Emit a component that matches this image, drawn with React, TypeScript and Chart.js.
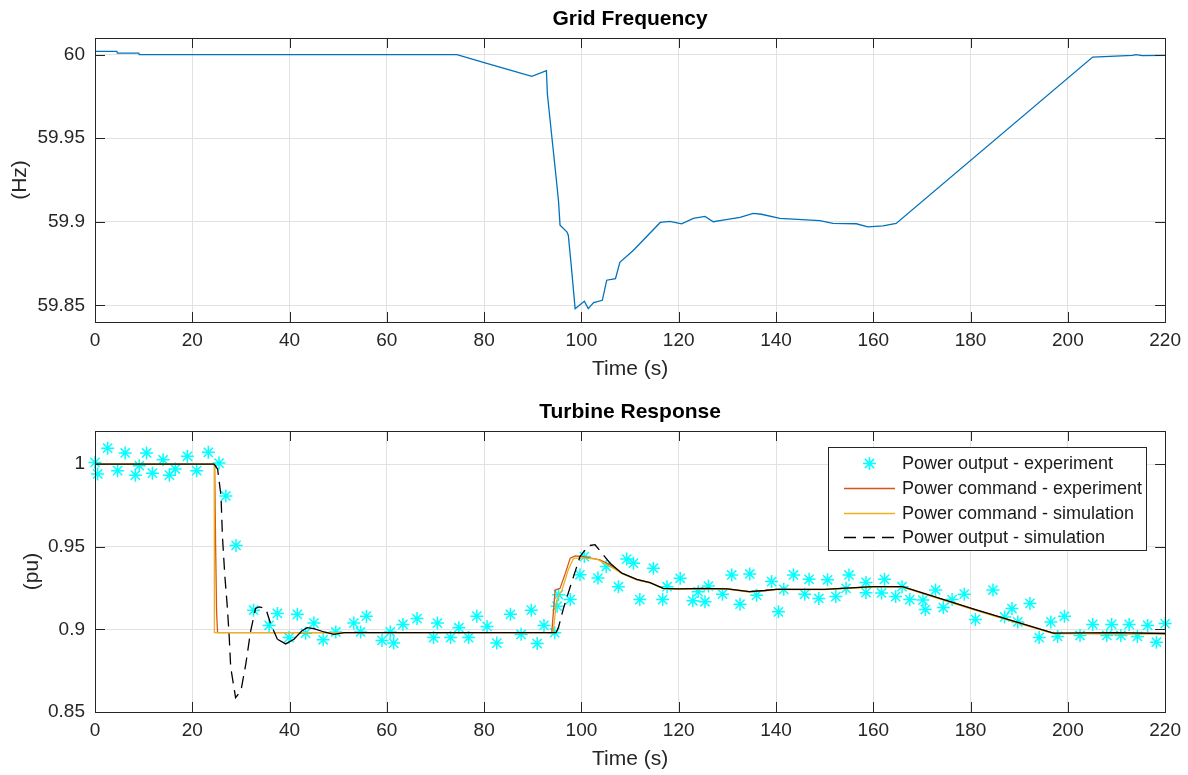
import React, { useEffect, useRef } from "react";
import { Chart, registerables } from "chart.js";

Chart.register(...registerables);

const FONT = '"Liberation Sans", Arial, Helvetica, sans-serif';
const AXIS_COLOR = "#262626";
const GRID_COLOR = "#e2e2e2";

// ---------- tick values ----------
const xTicks = [0, 20, 40, 60, 80, 100, 120, 140, 160, 180, 200, 220];
const freqYTicks = [59.85, 59.9, 59.95, 60];
const powerYTicks = [0.85, 0.9, 0.95, 1];

// ---------- Grid Frequency ----------
const freqTime = [0, 4.5, 4.6, 9, 9.1, 74.4, 80, 85, 89.8, 92.8, 93.0, 93.8, 94.6, 95.3, 95.6, 97.0, 97.3, 97.9, 98.7, 100.6, 101.4, 102.5, 104.3, 105.2, 107.0, 107.9, 110.7, 116.2, 118.2, 120.6, 123.0, 125.4, 127.1, 129.1, 132.6, 135.3, 137.0, 140.8, 149.0, 151.7, 156.5, 158.9, 162.0, 164.7, 205.1, 213.3, 214.0, 215.3, 220];
const freqHz = [60.002, 60.002, 60.001, 60.001, 60.0, 60.0, 59.9953, 59.991, 59.987, 59.9905, 59.9765, 59.954, 59.932, 59.912, 59.898, 59.894, 59.892, 59.874, 59.848, 59.8524, 59.848, 59.8516, 59.853, 59.865, 59.866, 59.8757, 59.883, 59.8996, 59.9002, 59.8988, 59.902, 59.9032, 59.9, 59.901, 59.9026, 59.905, 59.9045, 59.902, 59.9007, 59.899, 59.8988, 59.897, 59.8975, 59.899, 59.9986, 59.9996, 60.0, 59.9995, 59.9996];

// ---------- Turbine Response ----------
const expTime = [0.0, 0.55, 2.6, 4.65, 6.2, 8.3, 9.1, 10.6, 11.8, 14.0, 15.3, 16.5, 19.0, 20.9, 23.3, 25.5, 26.9, 29.0, 32.6, 35.8, 37.5, 39.9, 41.6, 43.3, 45.0, 46.9, 49.5, 53.2, 54.6, 55.8, 59.0, 60.7, 61.4, 63.3, 66.2, 69.6, 70.4, 73.1, 74.8, 76.8, 78.5, 80.6, 82.6, 85.4, 87.6, 89.7, 90.9, 92.3, 94.5, 95.0, 95.3, 97.7, 99.7, 100.6, 103.4, 105.1, 107.6, 109.3, 110.7, 112.0, 114.8, 116.7, 117.6, 120.3, 122.9, 124.0, 125.4, 126.1, 129.0, 130.9, 132.6, 134.6, 136.0, 139.1, 140.5, 141.6, 143.6, 145.9, 146.8, 148.8, 150.6, 152.3, 154.4, 155.0, 158.5, 158.5, 161.7, 162.3, 164.6, 165.9, 167.5, 170.2, 170.7, 172.8, 174.4, 176.2, 178.7, 181.0, 184.6, 187.0, 188.5, 189.7, 192.2, 194.1, 196.5, 197.9, 199.3, 202.5, 205.1, 208.0, 209.0, 210.9, 212.6, 214.3, 216.4, 218.2, 220.0];
const expPower = [1.001, 0.994, 1.0096, 0.996, 1.0067, 0.9933, 0.999, 1.0067, 0.9945, 1.0026, 0.9933, 0.997, 1.0047, 0.996, 1.0071, 1.0006, 0.9807, 0.9508, 0.9116, 0.9024, 0.9096, 0.895, 0.9091, 0.8977, 0.9038, 0.8937, 0.8984, 0.9038, 0.8984, 0.908, 0.8933, 0.8984, 0.8917, 0.903, 0.9065, 0.895, 0.9038, 0.895, 0.901, 0.895, 0.908, 0.9018, 0.8917, 0.9091, 0.897, 0.9116, 0.8914, 0.9024, 0.898, 0.914, 0.921, 0.918, 0.933, 0.944, 0.931, 0.938, 0.9258, 0.9425, 0.94, 0.918, 0.937, 0.918, 0.9258, 0.9309, 0.9173, 0.9227, 0.9167, 0.9262, 0.9213, 0.9329, 0.9152, 0.9335, 0.9207, 0.9289, 0.9106, 0.9242, 0.9329, 0.9213, 0.9303, 0.9187, 0.93, 0.9198, 0.9248, 0.9329, 0.9284, 0.9222, 0.922, 0.9303, 0.9198, 0.9258, 0.918, 0.9177, 0.912, 0.9238, 0.9132, 0.918, 0.9213, 0.906, 0.9238, 0.9075, 0.9126, 0.9045, 0.9157, 0.895, 0.9045, 0.8957, 0.9079, 0.8963, 0.903, 0.8963, 0.903, 0.8963, 0.903, 0.8957, 0.9024, 0.8922, 0.9035];

const cmdExpTime = [0, 24.6, 24.8, 25.0, 25.2, 93.9, 94.6, 95.6, 96.7, 97.7, 98.7, 100.4, 103.8, 105.9, 108.3, 111.4, 114.1, 116.8, 120, 125, 130, 134.5, 137.7, 140, 150, 160, 166, 181, 197, 210, 220];
const cmdExpPower = [1.0, 1.0, 0.95, 0.91, 0.898, 0.898, 0.9238, 0.9248, 0.934, 0.9431, 0.9445, 0.944, 0.942, 0.939, 0.934, 0.93, 0.9282, 0.9248, 0.9245, 0.9245, 0.9245, 0.9228, 0.9235, 0.9242, 0.9242, 0.9258, 0.9258, 0.912, 0.8977, 0.8975, 0.8975];

const cmdSimTime = [0, 24.5, 24.55, 94.2, 94.9, 96.0, 97.3, 98.4, 100.4, 103.2, 105.9, 108.5, 111.6, 114.3, 117.0, 120, 125, 130, 134.5, 137.7, 140, 150, 160, 166, 181, 197, 210, 220];
const cmdSimPower = [1.0, 1.0, 0.898, 0.898, 0.9177, 0.9238, 0.936, 0.9431, 0.9431, 0.9425, 0.938, 0.9335, 0.9298, 0.928, 0.9245, 0.9243, 0.9243, 0.9243, 0.9226, 0.9233, 0.924, 0.924, 0.9256, 0.9256, 0.9115, 0.8975, 0.8973, 0.8973];

const outSimTime = [0, 24.5, 25.2, 25.9, 26.2, 26.7, 27.2, 27.6, 27.9, 28.9, 30.0, 31.0, 32.0, 33.0, 33.7, 35.1, 36.1, 37.5, 39.2, 40.9, 42.5, 43.6, 45.0, 47.1, 49.1, 51.2, 94.8, 95.3, 96.3, 97.7, 99.7, 101.4, 102.8, 105.9, 108.3, 111.4, 114.1, 116.8, 120, 125, 130, 134.5, 137.7, 140, 150, 160, 166, 181, 197, 210, 220];
const outSimPower = [1.0, 1.0, 0.997, 0.981, 0.956, 0.932, 0.9136, 0.895, 0.877, 0.8587, 0.8628, 0.879, 0.899, 0.9126, 0.9136, 0.9126, 0.9035, 0.894, 0.8912, 0.894, 0.899, 0.901, 0.9004, 0.8984, 0.897, 0.898, 0.898, 0.9014, 0.9126, 0.9258, 0.944, 0.9506, 0.9512, 0.94, 0.934, 0.9303, 0.9282, 0.9248, 0.9245, 0.9248, 0.9245, 0.9228, 0.9235, 0.9242, 0.9242, 0.9258, 0.9258, 0.912, 0.8977, 0.898, 0.8975];

const seriesLabels = [
  "Power output - experiment",
  "Power command - experiment",
  "Power command - simulation",
  "Power output - simulation",
];

const pairs = (xs: number[], ys: number[]) => xs.map((x, i) => ({ x, y: ys[i] }));

const DASH = [12, 7];

// frame + inward ticks
const framePlugin = {
  id: "frame",
  afterDatasetsDraw(chart: any) {
    const { ctx, chartArea: a, scales } = chart;
    const tl = 10;
    ctx.save();
    ctx.strokeStyle = AXIS_COLOR;
    ctx.lineWidth = 1;
    ctx.beginPath();
    for (const t of scales.x.ticks) {
      const px = Math.round(scales.x.getPixelForValue(t.value)) + 0.5;
      ctx.moveTo(px, a.bottom);
      ctx.lineTo(px, a.bottom - tl);
      ctx.moveTo(px, a.top);
      ctx.lineTo(px, a.top + tl);
    }
    for (const t of scales.y.ticks) {
      const py = Math.round(scales.y.getPixelForValue(t.value)) + 0.5;
      ctx.moveTo(a.left, py);
      ctx.lineTo(a.left + tl, py);
      ctx.moveTo(a.right, py);
      ctx.lineTo(a.right - tl, py);
    }
    ctx.stroke();
    ctx.strokeRect(Math.round(a.left) + 0.5, Math.round(a.top) + 0.5, Math.round(a.right - a.left), Math.round(a.bottom - a.top));
    ctx.restore();
  },
};

// axes title centred over the plot area (MATLAB style)
const axesTitlePlugin = {
  id: "axesTitle",
  afterDraw(chart: any, _args: any, opts: any) {
    const { ctx, chartArea: a } = chart;
    ctx.save();
    ctx.font = `bold 21px ${FONT}`;
    ctx.fillStyle = "#000000";
    ctx.textAlign = "center";
    ctx.textBaseline = "middle";
    ctx.fillText(opts.text, (a.left + a.right) / 2, opts.y);
    ctx.restore();
  },
};

const legendPlugin = {
  id: "matlabLegend",
  afterDraw(chart: any) {
    const { ctx, chartArea: a } = chart;
    const w = 318;
    const h = 103;
    const x0 = Math.round(a.right - 19 - w);
    const y0 = Math.round(a.top + 16);
    ctx.save();
    ctx.fillStyle = "#ffffff";
    ctx.fillRect(x0, y0, w, h);
    ctx.strokeStyle = AXIS_COLOR;
    ctx.lineWidth = 1;
    ctx.strokeRect(x0 + 0.5, y0 + 0.5, w, h);
    ctx.font = `18px ${FONT}`;
    ctx.textBaseline = "middle";
    ctx.textAlign = "left";
    chart.data.datasets.forEach((ds: any, i: number) => {
      const cy = y0 + 16.5 + i * 24.6;
      const sx0 = x0 + 16;
      const sx1 = x0 + 67;
      if (ds.showLine === false) {
        const cx = (sx0 + sx1) / 2;
        const r = ds.pointRadius;
        ctx.strokeStyle = ds.pointBorderColor;
        ctx.lineWidth = ds.pointBorderWidth;
        ctx.beginPath();
        for (let k = 0; k < 4; k++) {
          const ang = (k * Math.PI) / 4;
          ctx.moveTo(cx - r * Math.cos(ang), cy - r * Math.sin(ang));
          ctx.lineTo(cx + r * Math.cos(ang), cy + r * Math.sin(ang));
        }
        ctx.stroke();
      } else {
        ctx.strokeStyle = ds.borderColor;
        ctx.lineWidth = ds.borderWidth;
        ctx.setLineDash(ds.legendDash || []);
        ctx.beginPath();
        ctx.moveTo(sx0, Math.round(cy) + 0.5);
        ctx.lineTo(sx1, Math.round(cy) + 0.5);
        ctx.stroke();
        ctx.setLineDash([]);
      }
      ctx.fillStyle = "#1a1a1a";
      ctx.fillText(ds.label, x0 + 74, cy + 1);
    });
    ctx.restore();
  },
};

function makeOptions(cfg: {
  title: string;
  titleY: number;
  topPad: number;
  yMin: number;
  yMax: number;
  yTicks: number[];
  yTitle: string;
  yTitlePad: number;
  xScaleHeight: number;
  xTitlePadBottom: number;
}) {
  return {
    responsive: false,
    animation: false as const,
    devicePixelRatio: 1,
    events: [] as any[],
    layout: { padding: { left: 0, right: 21, top: cfg.topPad, bottom: 0 } },
    plugins: {
      legend: { display: false },
      tooltip: { enabled: false },
      title: { display: false },
      axesTitle: { text: cfg.title, y: cfg.titleY },
    },
    scales: {
      x: {
        type: "linear" as const,
        min: 0,
        max: 220,
        afterBuildTicks: (s: any) => {
          s.ticks = xTicks.map((v) => ({ value: v }));
        },
        afterFit: (s: any) => {
          s.height = cfg.xScaleHeight;
        },
        grid: { color: GRID_COLOR, lineWidth: 1, drawTicks: false },
        border: { display: false },
        ticks: {
          padding: 7,
          color: AXIS_COLOR,
          autoSkip: false,
          maxRotation: 0,
          font: { family: FONT, size: 19 },
          callback: (v: any) => String(v),
        },
        title: {
          display: true,
          text: "Time (s)",
          color: AXIS_COLOR,
          font: { family: FONT, size: 21, lineHeight: 1.2 },
          padding: { top: 0, bottom: cfg.xTitlePadBottom },
        },
      },
      y: {
        type: "linear" as const,
        min: cfg.yMin,
        max: cfg.yMax,
        afterBuildTicks: (s: any) => {
          s.ticks = cfg.yTicks.map((v) => ({ value: v }));
        },
        afterFit: (s: any) => {
          s.width = 95;
        },
        grid: { color: GRID_COLOR, lineWidth: 1, drawTicks: false },
        border: { display: false },
        ticks: {
          padding: 10,
          color: AXIS_COLOR,
          autoSkip: false,
          font: { family: FONT, size: 19 },
          callback: (v: any) => String(Number(Number(v).toFixed(3))),
        },
        title: {
          display: true,
          text: cfg.yTitle,
          color: AXIS_COLOR,
          font: { family: FONT, size: 21, lineHeight: 1.2 },
          padding: { top: cfg.yTitlePad, bottom: 0 },
        },
      },
    },
  };
}

export default function App() {
  const topRef = useRef<HTMLCanvasElement | null>(null);
  const botRef = useRef<HTMLCanvasElement | null>(null);

  useEffect(() => {
    const c1 = new Chart(topRef.current as HTMLCanvasElement, {
      type: "line",
      data: {
        datasets: [
          {
            label: "Grid frequency",
            data: pairs(freqTime, freqHz),
            borderColor: "#0072BD",
            backgroundColor: "#0072BD",
            borderWidth: 1.3,
            pointRadius: 0,
            tension: 0,
            fill: false,
          },
        ],
      },
      options: makeOptions({
        title: "Grid Frequency",
        titleY: 19,
        topPad: 38,
        yMin: 59.84,
        yMax: 60.01,
        yTicks: freqYTicks,
        yTitle: "(Hz)",
        yTitlePad: 7.4,
        xScaleHeight: 65,
        xTitlePadBottom: 5.4,
      }) as any,
      plugins: [framePlugin, axesTitlePlugin],
    });

    const dashed = (ctx: any) => {
      const x = ctx.p0.parsed.x;
      return (x >= 24.4 && x < 37) || (x >= 94.4 && x < 104) ? DASH : undefined;
    };

    const c2 = new Chart(botRef.current as HTMLCanvasElement, {
      type: "line",
      data: {
        datasets: [
          {
            label: seriesLabels[0],
            data: pairs(expTime, expPower),
            showLine: false,
            pointStyle: "star",
            pointRadius: 6.5,
            pointBorderWidth: 1.5,
            pointBorderColor: "#00FFFF",
            pointBackgroundColor: "#00FFFF",
            borderColor: "#00FFFF",
            backgroundColor: "#00FFFF",
            clip: false,
            order: 4,
          } as any,
          {
            label: seriesLabels[1],
            data: pairs(cmdExpTime, cmdExpPower),
            borderColor: "#D95319",
            backgroundColor: "#D95319",
            borderWidth: 1.3,
            pointRadius: 0,
            tension: 0,
            fill: false,
            order: 3,
          },
          {
            label: seriesLabels[2],
            data: pairs(cmdSimTime, cmdSimPower),
            borderColor: "#EDB120",
            backgroundColor: "#EDB120",
            borderWidth: 1.3,
            pointRadius: 0,
            tension: 0,
            fill: false,
            order: 2,
          },
          {
            label: seriesLabels[3],
            data: pairs(outSimTime, outSimPower),
            borderColor: "#000000",
            backgroundColor: "#000000",
            borderWidth: 1.3,
            pointRadius: 0,
            tension: 0,
            fill: false,
            order: 1,
            legendDash: DASH,
            segment: { borderDash: dashed },
          } as any,
        ],
      },
      options: makeOptions({
        title: "Turbine Response",
        titleY: 22,
        topPad: 41,
        yMin: 0.85,
        yMax: 1.02,
        yTicks: powerYTicks,
        yTitle: "(pu)",
        yTitlePad: 20,
        xScaleHeight: 63,
        xTitlePadBottom: 3.4,
      }) as any,
      plugins: [framePlugin, axesTitlePlugin, legendPlugin],
    });

    return () => {
      c1.destroy();
      c2.destroy();
    };
  }, []);

  return (
    <div style={{ position: "absolute", left: 0, top: 0, width: 1188, height: 775, background: "#ffffff", overflow: "hidden" }}>
      <canvas ref={topRef} width={1188} height={387} style={{ position: "absolute", left: 0, top: 0, width: 1188, height: 387 }} />
      <canvas ref={botRef} width={1188} height={385} style={{ position: "absolute", left: 0, top: 390, width: 1188, height: 385 }} />
    </div>
  );
}
